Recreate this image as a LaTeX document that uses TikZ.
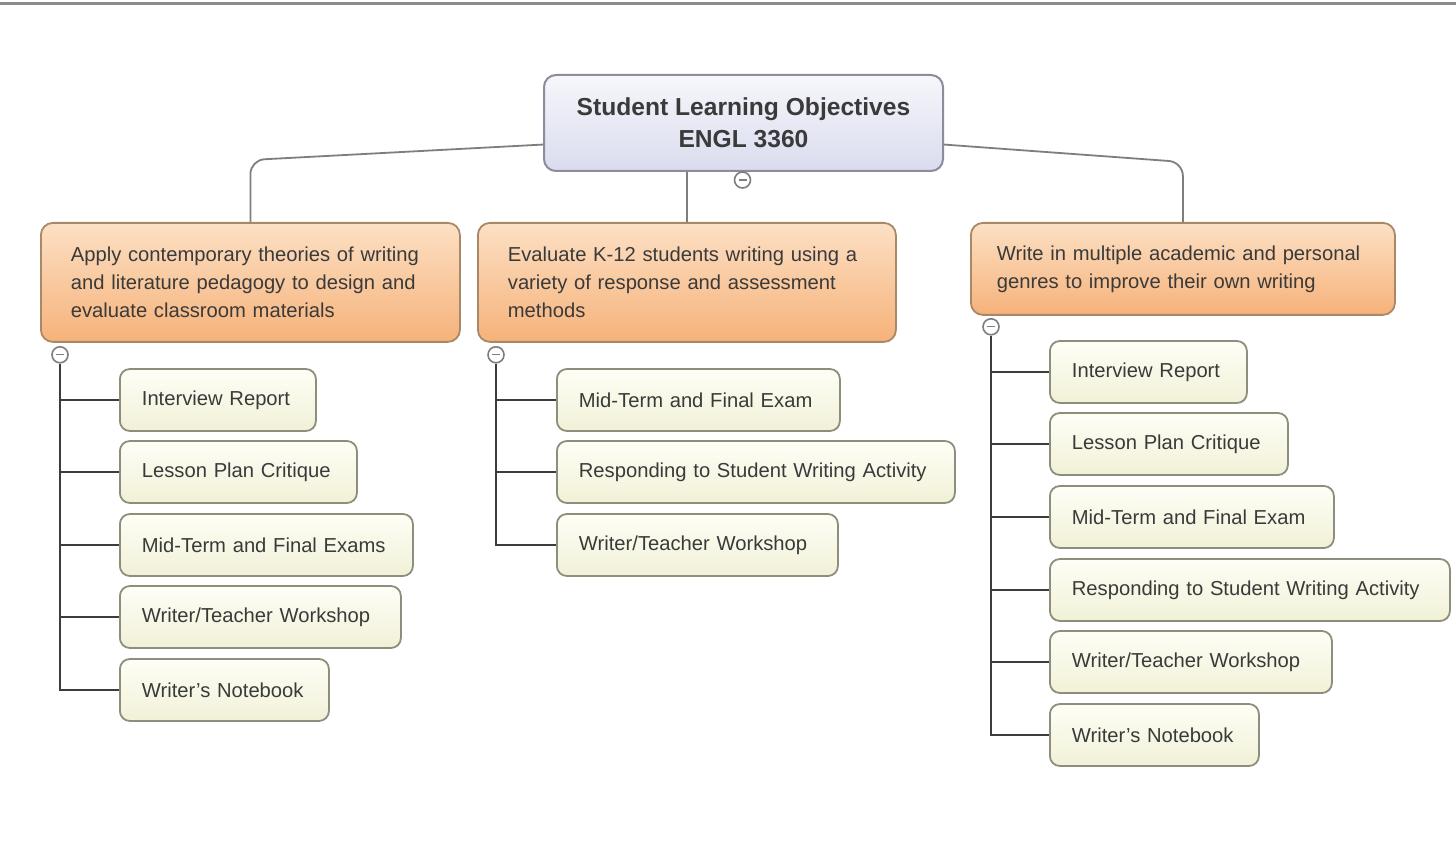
\documentclass[tikz,border=0pt]{standalone}
\usepackage{fontspec}
\setmainfont{Liberation Sans}
\usetikzlibrary{calc}
\definecolor{rootTop}{HTML}{F6F6FB}
\definecolor{rootBot}{HTML}{DADCEE}
\definecolor{rootLine}{HTML}{8C8C9C}
\definecolor{orTop}{HTML}{FCE0C4}
\definecolor{orBot}{HTML}{F6B27A}
\definecolor{orLine}{HTML}{A88866}
\definecolor{lfTop}{HTML}{FEFEF6}
\definecolor{lfBot}{HTML}{F1F1D8}
\definecolor{lfLine}{HTML}{8E8E7C}
\definecolor{txt}{HTML}{3A3A3A}
\definecolor{conA}{HTML}{7E7E7E}
\definecolor{conB}{HTML}{3C3C3C}
\tikzset{
  rootbox/.style={draw=rootLine, line width=1pt, rounded corners=6pt,
    top color=rootTop, bottom color=rootBot, anchor=north west,
    minimum width=199.5pt, minimum height=48pt, align=center,
    text=txt, font=\fontsize{12.3}{16}\selectfont\bfseries, inner sep=0pt},
  objbox/.style={draw=orLine, line width=0.9pt, rounded corners=6pt,
    top color=orTop, bottom color=orBot, anchor=north west,
    align=left, text=txt, font=\fontsize{10.1}{14}\selectfont,
    inner ysep=0pt},
  leafbox/.style={draw=lfLine, line width=0.9pt, rounded corners=5pt,
    top color=lfTop, bottom color=lfBot, anchor=west,
    minimum height=31pt, inner xsep=11pt, inner ysep=0pt, align=left,
    text=txt, font=\fontsize{10.1}{14}\selectfont},
  collapse/.style={circle, draw=conA, fill=white, line width=0.8pt,
    minimum size=8pt, inner sep=0pt,
    path picture={\draw[conA, line width=0.6pt]
      ($(path picture bounding box.center)+(-4,0)$) --
      ($(path picture bounding box.center)+(4,0)$);}},
  linkA/.style={draw=conA, line width=0.9pt, rounded corners=7pt},
  linkB/.style={draw=conB, line width=0.9pt},
}
\begin{document}
\begin{tikzpicture}[x=0.5pt,y=-0.5pt]
\useasboundingbox (0,0) rectangle (1456,855);
\fill[white] (0,0) rectangle (1456,855);
\draw[color=conA!90, line width=1.5pt] (0,4) -- (1456,4);

% root
\node[rootbox] (root) at (543,74) {Student Learning Objectives\\ENGL 3360};

% objectives
\node[objbox, inner xsep=15pt, text width=179.5pt, minimum height=59.5pt] (o1) at (40,222)
  {Apply contemporary theories of writing\\and literature pedagogy to design and\\evaluate classroom materials};
\node[objbox, inner xsep=15pt, text width=179pt, minimum height=59.5pt] (o2) at (477,222)
  {Evaluate K-12 students writing using a\\variety of response and assessment\\methods};
\node[objbox, inner xsep=13pt, text width=186pt, minimum height=46pt] (o3) at (970,222)
  {Write in multiple academic and personal\\genres to improve their own writing};

% root connectors
\coordinate (rL) at ($(root.south west)!0.28!(root.north west)$);
\coordinate (rR) at ($(root.south east)!0.28!(root.north east)$);
\path[linkA] (rL) -- ($(o1.north)+(0,-62)$) -- (o1.north);
\path[linkA] (rR) -- ($(o3.north)+(0,-60)$) -- (o3.north);
\path[linkB, draw=conA] (o2.north) -- (o2.north |- root.south);
\node[collapse] (c0) at ($(root.south)+(-1,8)$) {};

% leaves of objective 1
\node[leafbox, text width=76pt]    (a1) at (119,400) {\mbox{Interview Report}};
\node[leafbox, text width=96.5pt]  (a2) at (119,472) {\mbox{Lesson Plan Critique}};
\node[leafbox, text width=124.5pt] (a3) at (119,545) {\mbox{Mid-Term and Final Exams}};
\node[leafbox, text width=118.5pt] (a4) at (119,617) {\mbox{Writer/Teacher Workshop}};
\node[leafbox, text width=82.5pt]  (a5) at (119,690) {\mbox{Writer's Notebook}};
\node[collapse] (c1) at ($(o1.south west)+(20,12)$) {};
\path[linkB] (c1.south) -- (c1.south |- a5.west) -- (a5.west);
\foreach \n in {a1,a2,a3,a4} \path[linkB] (c1.south |- \n.west) -- (\n.west);

% leaves of objective 2
\node[leafbox, text width=119.5pt] (b1) at (556,400) {\mbox{Mid-Term and Final Exam}};
\node[leafbox, text width=177pt]   (b2) at (556,472) {\mbox{Responding to Student Writing Activity}};
\node[leafbox, text width=118.5pt] (b3) at (556,545) {\mbox{Writer/Teacher Workshop}};
\node[collapse] (c2) at ($(o2.south west)+(19,12)$) {};
\path[linkB] (c2.south) -- (c2.south |- b3.west) -- (b3.west);
\foreach \n in {b1,b2} \path[linkB] (c2.south |- \n.west) -- (\n.west);

% leaves of objective 3
\node[leafbox, text width=76.5pt]  (d1) at (1049,372) {\mbox{Interview Report}};
\node[leafbox, text width=97pt]    (d2) at (1049,444) {\mbox{Lesson Plan Critique}};
\node[leafbox, text width=120pt]   (d3) at (1049,517) {\mbox{Mid-Term and Final Exam}};
\node[leafbox, text width=178pt]   (d4) at (1049,590) {\mbox{Responding to Student Writing Activity}};
\node[leafbox, text width=119pt]   (d5) at (1049,662) {\mbox{Writer/Teacher Workshop}};
\node[leafbox, text width=82.5pt]  (d6) at (1049,735) {\mbox{Writer's Notebook}};
\node[collapse] (c3) at ($(o3.south west)+(21,11)$) {};
\path[linkB] (c3.south) -- (c3.south |- d6.west) -- (d6.west);
\foreach \n in {d1,d2,d3,d4,d5} \path[linkB] (c3.south |- \n.west) -- (\n.west);
\end{tikzpicture}
\end{document}
